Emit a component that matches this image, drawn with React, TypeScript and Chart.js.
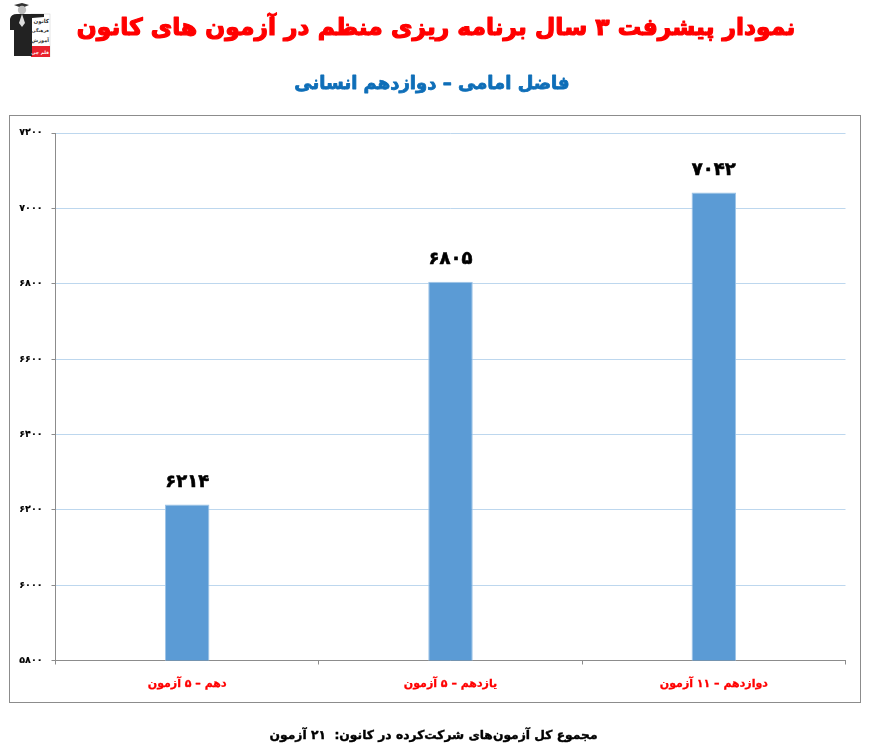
import React, { useEffect, useRef } from "react";
import { Chart, registerables } from "chart.js";

Chart.register(...registerables);

const categories = ["دهم – ۵ آزمون", "یازدهم – ۵ آزمون", "دوازدهم – ۱۱ آزمون"];
const scores = [6214, 6805, 7042];
const titleText = "نمودار پیشرفت ۳ سال برنامه ریزی منظم در آزمون های کانون";
const subtitleText = "فاضل امامی – دوازدهم انسانی";
const footerText = "مجموع کل آزمون‌های شرکت‌کرده در کانون:  ۲۱ آزمون";
const yMin = 5800;
const yMax = 7200;
const yStep = 200;

const FONT = "'DejaVu Sans', 'Noto Sans', sans-serif";
const fa = (n: number) => String(n).replace(/\d/g, (d) => "۰۱۲۳۴۵۶۷۸۹"[Number(d)]);

const heavyText = (ctx: any, text: string, x: number, y: number, color: string, size: number, stroke: number) => {
  ctx.font = `bold ${size}px ${FONT}`;
  ctx.fillStyle = color;
  ctx.strokeStyle = color;
  ctx.lineWidth = stroke;
  ctx.lineJoin = "round";
  ctx.strokeText(text, x, y);
  ctx.fillText(text, x, y);
};

const decorations = {
  id: "decorations",
  beforeDraw(chart: any) {
    const { ctx } = chart;
    ctx.save();
    ctx.strokeStyle = "#8c8c8c";
    ctx.lineWidth = 1;
    ctx.strokeRect(9.5, 115.5, 851, 587);
    ctx.restore();
  },
  afterDraw(chart: any) {
    const { ctx } = chart;
    const meta = chart.getDatasetMeta(0);
    ctx.save();
    ctx.textAlign = "center";
    ctx.textBaseline = "alphabetic";
    heavyText(ctx, titleText, 436, 35, "#ff0000", 23.4, 1.2);
    heavyText(ctx, subtitleText, 432, 89, "#0e6eb8", 18, 0.8);
    meta.data.forEach((bar: any, i: number) => {
      heavyText(ctx, fa(scores[i]), bar.x, bar.y - 18, "#000", 18, 0.6);
    });
    heavyText(ctx, footerText, 433.5, 739, "#000", 12.3, 0.4);
    ctx.restore();
  },
};

export default function App() {
  const ref = useRef<HTMLCanvasElement | null>(null);
  useEffect(() => {
    if (!ref.current) return;
    const chart = new Chart(ref.current, {
      type: "bar",
      data: {
        labels: categories,
        datasets: [
          {
            data: scores,
            backgroundColor: "#5B9BD5",
            borderColor: "#9DC3E6",
            borderWidth: 1,
            barPercentage: 0.169,
            categoryPercentage: 1,
          },
        ],
      },
      options: {
        responsive: false,
        animation: false,
        layout: { padding: { left: 10, right: 30.5, top: 133, bottom: 0 } },
        plugins: {
          legend: { display: false },
          tooltip: { enabled: false },
          title: { display: false },
        },
        scales: {
          x: {
            afterFit(scale: any) {
              scale.height = 90.5;
            },
            border: { color: "#8c8c8c", width: 1 },
            grid: {
              offset: true,
              drawOnChartArea: false,
              drawTicks: true,
              tickLength: 4,
              tickColor: "#8c8c8c",
            },
            ticks: {
              color: "#ff0000",
              padding: 13,
              maxRotation: 0,
              textStrokeColor: "#ff0000",
              textStrokeWidth: 0.3,
              font: { family: FONT, size: 11, weight: "bold" },
            },
          },
          y: {
            min: yMin,
            max: yMax,
            afterFit(scale: any) {
              scale.width = 45.5;
            },
            border: { color: "#8c8c8c", width: 1 },
            grid: {
              color: "#BDD7EE",
              lineWidth: 1,
              drawTicks: true,
              tickLength: 4,
              tickColor: "#8c8c8c",
            },
            ticks: {
              stepSize: yStep,
              color: "#000",
              padding: 9,
              textStrokeColor: "#000",
              textStrokeWidth: 0.2,
              font: { family: FONT, size: 9.5, weight: "bold" },
              callback: (v: any) => fa(Number(v)),
            },
          },
        },
      },
      plugins: [decorations],
    } as any);
    return () => chart.destroy();
  }, []);

  return (
    <div style={{ position: "absolute", left: 0, top: 0, width: 876, height: 751, background: "#fff" }}>
      <canvas ref={ref} width={876} height={751} dir="rtl" style={{ display: "block" }} />
      <svg width="42" height="54" viewBox="0 0 42 54" style={{ position: "absolute", left: 9, top: 3 }}>
        <rect x="22" y="11" width="19" height="43" fill="#fff" stroke="#ccc" strokeWidth="0.5" />
        <rect x="22" y="43" width="19" height="11" fill="#e8222e" />
        <path d="M5 2 L13 0 L20 2 L13 5 Z" fill="#333" />
        <circle cx="13" cy="7" r="4.2" fill="#bdbdbd" />
        <path d="M1 16 Q2 11 8 11 L35 11 L35 14 L23 15 L23 53 L5 53 L5 27 L1 27 Z" fill="#222" />
        <path d="M13 11 L10 20 L13 24 L16 20 Z" fill="#ddd" />
        <text x="40" y="20" textAnchor="end" fontFamily={FONT} fontSize="5.5" fontWeight="bold" fill="#333">کانون</text>
        <text x="40" y="29" textAnchor="end" fontFamily={FONT} fontSize="4.4" fontWeight="bold" fill="#333">فرهنگی</text>
        <text x="40" y="39" textAnchor="end" fontFamily={FONT} fontSize="5" fontWeight="bold" fill="#333">آموزش</text>
        <text x="40" y="51" textAnchor="end" fontFamily={FONT} fontSize="4.5" fontWeight="bold" fill="#fff">قلم چی</text>
      </svg>
    </div>
  );
}
